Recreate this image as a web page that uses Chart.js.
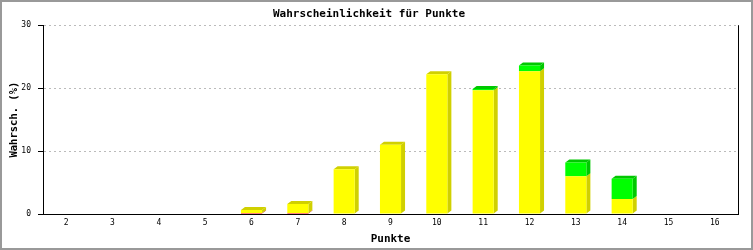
<!DOCTYPE html>
<html>
<head>
<meta charset="utf-8">
<script src="https://cdn.jsdelivr.net/npm/chart.js@4/dist/chart.umd.min.js"></script>
<style>
    html, body { margin: 0; padding: 0; background: #fff; }
    #wrap { width: 753px; height: 250px; }
</style>
</head>
<body>
<div id="wrap"><canvas id="chart" width="753" height="250"></canvas></div>
<script>
// Chart data
const categories = ['2', '3', '4', '5', '6', '7', '8', '9', '10', '11', '12', '13', '14', '15', '16'];
const redValues    = [0, 0, 0, 0, 0.15, 0.15, 0, 0, 0, 0, 0, 0, 0, 0, 0];
const yellowValues = [0, 0, 0, 0, 0.5, 1.45, 7.1, 11.0, 22.2, 19.65, 22.7, 6.0, 2.4, 0, 0];
const greenValues  = [0, 0, 0, 0, 0, 0, 0, 0, 0, 0.2, 0.9, 2.2, 3.2, 0, 0];
const yTicks = [0, 10, 20, 30];

const frontColors = ['#ff0000', '#ffff00', '#00ff00'];
const sideColors = ['#c80000', '#d0d000', '#00c800'];

// Fake 3D: side and top faces drawn behind the front faces
const depthPlugin = {
    id: 'depth',
    beforeDatasetsDraw(chart) {
        const ctx = chart.ctx;
        const dx = 4, dy = 3;
        const datasets = chart.data.datasets;

        ctx.save();
        for (let i = 0; i < chart.data.labels.length; i++) {
            let topSet = -1;
            datasets.forEach((ds, k) => { if (ds.data[i] > 0) topSet = k; });

            datasets.forEach((ds, k) => {
                if (!(ds.data[i] > 0)) return;
                const bar = chart.getDatasetMeta(k).data[i];
                const { x, y, base, width } = bar.getProps(['x', 'y', 'base', 'width'], true);
                const l = x - width / 2;
                const r = x + width / 2;

                ctx.fillStyle = sideColors[k];
                ctx.beginPath();
                ctx.moveTo(r, base);
                ctx.lineTo(r + dx, base - dy);
                ctx.lineTo(r + dx, y - dy);
                ctx.lineTo(r, y);
                ctx.closePath();
                ctx.fill();

                if (k === topSet) {
                    ctx.beginPath();
                    ctx.moveTo(l, y);
                    ctx.lineTo(l + dx, y - dy);
                    ctx.lineTo(r + dx, y - dy);
                    ctx.lineTo(r, y);
                    ctx.closePath();
                    ctx.fill();
                }
            });
        }
        ctx.restore();
    }
};

// White background, outer frame and right plot border
const framePlugin = {
    id: 'frame',
    beforeDraw(chart) {
        const ctx = chart.ctx;
        ctx.save();
        ctx.fillStyle = '#fff';
        ctx.fillRect(0, 0, chart.width, chart.height);
        ctx.restore();
    },
    afterDraw(chart) {
        const ctx = chart.ctx;
        const area = chart.chartArea;
        ctx.save();
        ctx.strokeStyle = '#000';
        ctx.lineWidth = 1;
        ctx.beginPath();
        ctx.moveTo(Math.round(area.right) + 0.5, area.top);
        ctx.lineTo(Math.round(area.right) + 0.5, area.bottom);
        ctx.stroke();

        ctx.strokeStyle = '#999';
        ctx.lineWidth = 2;
        ctx.strokeRect(1, 1, chart.width - 2, chart.height - 2);
        ctx.restore();
    }
};

const mono = "'DejaVu Sans Mono', 'Liberation Mono', monospace";

new Chart(document.getElementById('chart'), {
    type: 'bar',
    data: {
        labels: categories,
        datasets: [
            { label: 'rot', data: redValues, backgroundColor: frontColors[0] },
            { label: 'gelb', data: yellowValues, backgroundColor: frontColors[1] },
            { label: 'grün', data: greenValues, backgroundColor: frontColors[2] }
        ]
    },
    options: {
        responsive: false,
        animation: false,
        devicePixelRatio: 1,
        layout: {
            padding: { left: 0, right: 15, top: 0, bottom: 0 }
        },
        datasets: {
            bar: {
                categoryPercentage: 1,
                barPercentage: 0.455,
                borderWidth: 0
            }
        },
        plugins: {
            legend: { display: false },
            tooltip: { enabled: false },
            title: {
                display: true,
                text: 'Wahrscheinlichkeit für Punkte',
                color: '#000',
                font: { family: mono, size: 11, weight: 'bold' },
                padding: { top: 8, bottom: 4 }
            }
        },
        scales: {
            x: {
                stacked: true,
                grid: { display: false, drawTicks: false },
                border: { display: true, color: '#000', width: 1 },
                ticks: {
                    color: '#000',
                    font: { family: mono, size: 8 },
                    padding: 4,
                    maxRotation: 0,
                    autoSkip: false
                },
                title: {
                    display: true,
                    text: 'Punkte',
                    color: '#000',
                    font: { family: mono, size: 11, weight: 'bold' },
                    padding: { top: 2, bottom: 4 }
                },
                afterFit(scale) { scale.height = 36; }
            },
            y: {
                stacked: true,
                min: 0,
                max: 30,
                afterBuildTicks(scale) {
                    scale.ticks = yTicks.map(v => ({ value: v }));
                },
                grid: {
                    color: ctx => (ctx.tick && ctx.tick.value === 0) ? 'rgba(0,0,0,0)' : '#bbb',
                    tickColor: '#000',
                    tickLength: 5,
                    lineWidth: 1
                },
                border: { display: true, color: '#000', width: 1, dash: [2, 3] },
                ticks: {
                    color: '#000',
                    font: { family: mono, size: 8 },
                    padding: 7
                },
                title: {
                    display: true,
                    text: 'Wahrsch. (%)',
                    color: '#000',
                    font: { family: mono, size: 10.5, weight: 'bold' },
                    padding: { top: 8, bottom: 4 }
                },
                afterFit(scale) { scale.width = 43; }
            }
        }
    },
    plugins: [depthPlugin, framePlugin]
});
</script>
</body>
</html>
